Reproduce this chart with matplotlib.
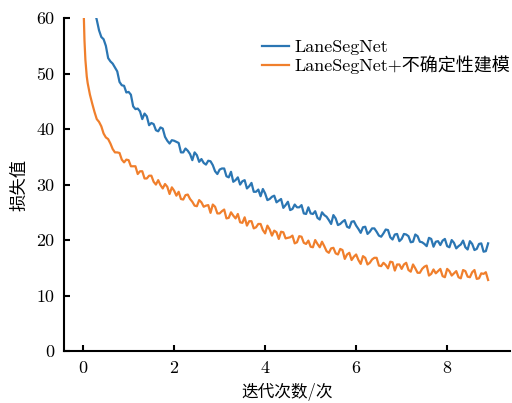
import matplotlib
matplotlib.use("Agg")
import matplotlib.pyplot as plt

plt.rcParams['font.family'] = ['cmr10', 'Noto Sans CJK SC', 'DejaVu Sans']
plt.rcParams['axes.unicode_minus'] = False
plt.rcParams['mathtext.fontset'] = 'cm'

series_names = ["LaneSegNet", "LaneSegNet+不确定性建模"]
xlabel = "迭代次数/次"
ylabel = "损失值"
xticks = [0, 2, 4, 6, 8]
yticks = [0, 10, 20, 30, 40, 50, 60]

# LaneSegNet loss, sampled every 0.05 from x = 0.25 to 8.9
blue_start, blue_step = 0.25, 0.05
blue_y = [61.3,
          59.7, 57.8, 56.6, 56.2, 55.0, 52.8, 52.2, 51.8, 51.1, 50.4, 48.5, 47.9, 47.8, 46.6,
          46.7, 46.2, 44.1, 43.6, 43.7, 43.2, 41.8, 42.8, 42.3, 40.7, 41.1, 40.9, 39.8, 39.6,
          40.3, 40.1, 38.6, 37.9, 37.4, 38.0, 37.9, 37.7, 37.5, 35.8, 35.8, 36.5, 36.1, 35.5,
          34.4, 35.8, 35.3, 34.1, 34.6, 33.9, 33.6, 34.3, 34.2, 33.5, 32.4, 31.9, 32.7, 32.9,
          32.9, 31.5, 31.3, 32.3, 30.5, 30.8, 31.3, 30.0, 30.6, 30.8, 29.3, 29.7, 30.3, 28.7,
          28.7, 29.1, 27.9, 29.2, 28.4, 27.2, 27.4, 27.8, 28.0, 26.8, 27.1, 27.4, 25.8, 26.3,
          26.9, 25.4, 25.6, 26.4, 25.9, 25.9, 26.3, 24.8, 24.7, 25.9, 24.8, 24.7, 25.2, 24.0,
          23.7, 25.0, 24.5, 24.2, 23.6, 22.9, 24.5, 23.9, 22.7, 22.9, 23.3, 23.6, 22.4, 22.2,
          23.3, 23.4, 22.6, 22.0, 21.3, 22.3, 22.4, 21.1, 21.5, 22.1, 22.1, 21.5, 20.8, 20.6,
          21.2, 21.9, 21.8, 20.5, 20.1, 21.0, 21.1, 19.8, 20.2, 21.1, 21.0, 20.7, 19.6, 19.7,
          21.0, 20.7, 19.7, 19.6, 19.3, 18.9, 20.4, 20.2, 18.8, 19.7, 19.8, 19.1, 19.9, 20.2,
          18.9, 18.7, 20.0, 19.5, 18.5, 18.9, 19.2, 19.9, 18.7, 18.3, 19.8, 19.3, 18.2, 18.4,
          19.3, 19.4, 17.9, 18.0, 19.4]

# LaneSegNet+不确定性建模 loss: steep head, then sampled every 0.05 from x = 0.3 to 8.9
orange_head_x = [0.01, 0.03, 0.05, 0.08, 0.10, 0.15, 0.20, 0.25]
orange_head_y = [62.0, 56.0, 52.5, 49.5, 48.3, 46.2, 44.6, 43.1]
orange_start, orange_step = 0.30, 0.05
orange_y = [41.8, 41.3, 40.5, 39.2, 38.5, 38.2, 37.4, 36.4, 35.8, 35.8, 35.7, 34.5, 34.0, 34.5,
            34.4, 33.3, 33.3, 33.3, 31.9, 32.4, 32.4, 31.1, 31.1, 31.6, 31.6, 30.5, 30.0, 30.8,
            29.9, 29.3, 30.1, 29.6, 28.3, 29.5, 28.9, 28.0, 28.7, 27.4, 27.3, 28.1, 28.2, 27.4,
            26.9, 26.2, 26.1, 27.2, 26.8, 26.0, 26.2, 26.3, 24.9, 26.4, 26.0, 24.8, 24.8, 25.2,
            25.5, 23.9, 24.0, 25.0, 24.4, 23.9, 24.7, 23.2, 23.1, 24.1, 22.6, 23.4, 23.4, 22.1,
            22.3, 22.9, 22.9, 21.8, 21.2, 22.6, 21.9, 20.8, 21.7, 21.4, 20.2, 21.5, 21.4, 20.3,
            20.4, 20.5, 20.8, 19.4, 19.6, 20.7, 20.6, 19.5, 19.3, 19.9, 18.8, 18.7, 20.0, 19.3,
            18.7, 19.7, 18.9, 18.0, 17.7, 18.5, 18.6, 17.6, 17.4, 18.4, 18.2, 16.6, 17.4, 17.7,
            16.4, 17.0, 17.4, 16.4, 15.7, 17.1, 16.8, 15.6, 15.9, 16.5, 16.8, 16.8, 15.4, 15.3,
            15.9, 15.5, 14.9, 16.1, 16.0, 14.5, 15.6, 15.6, 14.8, 15.6, 15.9, 14.6, 14.3, 15.6,
            14.9, 14.1, 14.1, 14.8, 15.2, 15.4, 13.6, 13.9, 14.7, 14.0, 14.4, 14.8, 13.5, 13.3,
            14.8, 14.4, 13.6, 14.0, 14.4, 13.3, 13.1, 14.6, 14.4, 13.4, 13.3, 14.2, 14.6, 13.0,
            13.1, 14.0, 13.9, 14.2, 12.8]

blue_x = [round(blue_start + i * blue_step, 3) for i in range(len(blue_y))]
orange_x = orange_head_x + [round(orange_start + i * orange_step, 3) for i in range(len(orange_y))]
orange_all_y = orange_head_y + orange_y

colors = ["#2b76b3", "#f07f2c"]

fig = plt.figure(figsize=(5.12, 4.03), dpi=100)
ax = fig.add_axes([0.125, 0.129, 0.871, 0.826])

ax.plot(blue_x, blue_y, color=colors[0], lw=1.6, label=series_names[0])
ax.plot(orange_x, orange_all_y, color=colors[1], lw=1.6, label=series_names[1])

ax.set_xlim(-0.42, 9.38)
ax.set_ylim(0, 60)
ax.set_xticks(xticks)
ax.set_yticks(yticks)
for s in ["top", "right"]:
    ax.spines[s].set_visible(False)
for s in ["left", "bottom"]:
    ax.spines[s].set_linewidth(1.5)
ax.tick_params(direction="in", length=4, width=1.5, labelsize=13, pad=7)

ax.set_xlabel(xlabel, fontsize=12, labelpad=5)
ax.set_ylabel(ylabel, fontsize=12.5, labelpad=6)

leg = ax.legend(loc="upper right", bbox_to_anchor=(1.026, 0.968), frameon=False, fontsize=13,
                handlelength=1.5, handletextpad=0.35, labelspacing=0.0, borderaxespad=0.2)

fig.savefig("out.png", dpi=100)
